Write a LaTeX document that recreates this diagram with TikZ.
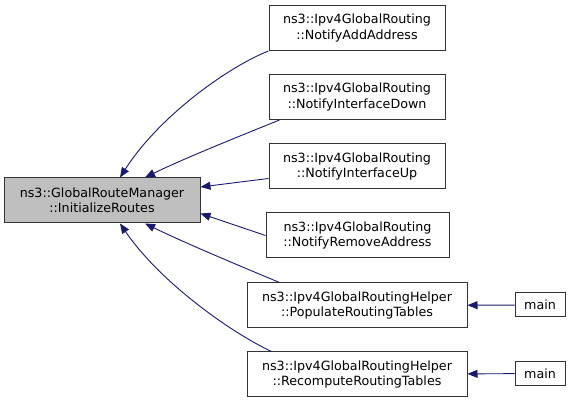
\documentclass[tikz,border=0pt]{standalone}
\usepackage{fontspec}
\setmainfont{DejaVu Sans}
\usetikzlibrary{arrows.meta}

\definecolor{edgeblue}{RGB}{25,25,112}
\definecolor{rootgray}{RGB}{191,191,191}

\begin{document}
\begin{tikzpicture}[
    x=1pt,y=-1pt,
    every node/.style={font=\fontsize{12.7}{15.5}\selectfont},
    fn/.style={draw=black!80,line width=1pt,rectangle,inner sep=2pt,minimum height=45pt,align=center},
    leaf/.style={draw=black!80,line width=1pt,rectangle,inner sep=2pt,minimum width=50pt,minimum height=24pt},
    call/.style={draw=edgeblue,line width=0.9pt,-{Triangle[length=10pt,width=8pt]}}
]
\useasboundingbox (0,0) rectangle (576,403);

% Function being called
\node[fn,fill=rootgray,minimum width=196pt] (irt) at (102,200.5) {ns3::GlobalRouteManager\\::InitializeRoutes};

% Callers
\node[fn,minimum width=176pt] (nadd)  at (357,28)    {ns3::Ipv4GlobalRouting\\::NotifyAddAddress};
\node[fn,minimum width=176pt] (ndown) at (357,97)    {ns3::Ipv4GlobalRouting\\::NotifyInterfaceDown};
\node[fn,minimum width=176pt] (nup)   at (357,166.5) {ns3::Ipv4GlobalRouting\\::NotifyInterfaceUp};
\node[fn,minimum width=183pt] (nrem)  at (357.5,235.5) {ns3::Ipv4GlobalRouting\\::NotifyRemoveAddress};
\node[fn,minimum width=220pt] (pop)   at (357,305.5) {ns3::Ipv4GlobalRoutingHelper\\::PopulateRoutingTables};
\node[fn,minimum width=220pt] (rec)   at (357,374.5) {ns3::Ipv4GlobalRoutingHelper\\::RecomputeRoutingTables};

% Callers of the helpers
\node[leaf] (main1) at (540,305)   {main};
\node[leaf] (main2) at (540,373.5) {main};

% Edges into InitializeRoutes
\draw[call] (nadd.south west) .. controls (230,66) and (160,115) .. ([xshift=18pt]irt.north);
\draw[call] ([xshift=11pt]ndown.south west) .. controls (240,136) and (185,158) .. ([xshift=43pt]irt.north);
\draw[call] ([yshift=11pt]nup.south west) -- ([yshift=13.5pt]irt.east);
\draw[call] (nrem.west) -- ([yshift=-13pt]irt.east);
\draw[call] ([xshift=33pt]pop.north west) .. controls (240,266) and (185,243) .. ([xshift=43pt]irt.south);
\draw[call] ([xshift=25pt]rec.north west) .. controls (230,332) and (160,282) .. ([xshift=18pt]irt.south);

% Edges from main
\draw[call] (main1) -- (pop);
\draw[call] (main2) -- (rec);

\end{tikzpicture}
\end{document}
